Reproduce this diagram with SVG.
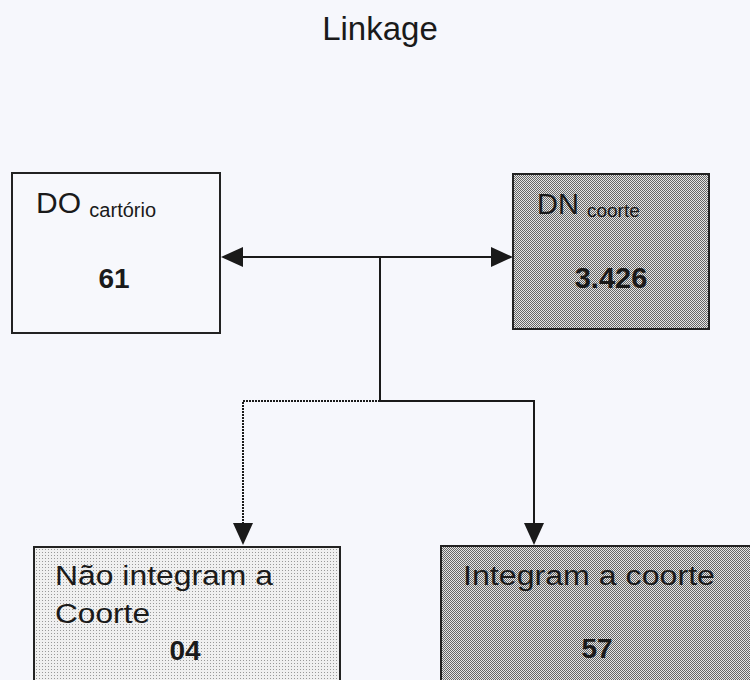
<svg xmlns="http://www.w3.org/2000/svg" width="750" height="680" viewBox="0 0 750 680">
<style>
text{font-family:"Liberation Sans",Arial,sans-serif;fill:#1a1a1a}
.b{font-weight:bold}
.box{stroke:#222;stroke-width:2}
.ln{fill:none;stroke:#1a1a1a;stroke-width:2}
.dot{stroke-dasharray:2 1}
</style>
<defs>
<pattern id="dense" patternUnits="userSpaceOnUse" width="2" height="2">
<rect width="2" height="2" fill="#e6e6e6"/>
<rect width="1" height="1" fill="#666"/>
<rect x="1" y="1" width="1" height="1" fill="#666"/>
</pattern>
<pattern id="light" patternUnits="userSpaceOnUse" width="3" height="3">
<rect width="3" height="3" fill="#f0f0f0"/>
<rect width="1" height="1" fill="#999"/>
</pattern>
<marker id="arr" markerUnits="userSpaceOnUse" markerWidth="22" markerHeight="20" refX="20" refY="10" orient="auto-start-reverse" viewBox="0 0 22 20">
<path d="M0,0 L22,10 L0,20 z" fill="#1a1a1a"/>
</marker>
</defs>
<rect width="750" height="680" fill="#f6f7fc"/>
<text x="380" y="40" font-size="33" text-anchor="middle">Linkage</text>
<g id="connectors">
<path class="ln" d="M223,257 H511" marker-start="url(#arr)" marker-end="url(#arr)"/>
<path class="ln" d="M380,257 V401"/>
<path class="ln dot" d="M380,401 H243 V543" marker-end="url(#arr)"/>
<path class="ln" d="M380,401 H534 V543" marker-end="url(#arr)"/>
</g>
<g id="do-cartorio">
<rect class="box" x="12" y="173" width="208" height="160" fill="#f7f8fc"/>
<text x="36" y="213" font-size="30">DO <tspan font-size="20" dy="4">cartório</tspan></text>
<text class="b" x="114" y="288" font-size="28" text-anchor="middle">61</text>
</g>
<g id="dn-coorte">
<rect class="box" x="513" y="174" width="196" height="155" fill="url(#dense)"/>
<text x="537" y="214" font-size="29">DN <tspan font-size="19" dy="3">coorte</tspan></text>
<text class="b" x="611" y="288" font-size="29" text-anchor="middle">3.426</text>
</g>
<g id="nao-integram">
<rect class="box" x="34" y="547" width="306" height="150" fill="url(#light)"/>
<text x="55" y="585" font-size="27" textLength="218" lengthAdjust="spacingAndGlyphs">Não integram a</text>
<text x="55" y="623" font-size="27" textLength="95" lengthAdjust="spacingAndGlyphs">Coorte</text>
<text class="b" x="185" y="660" font-size="28" text-anchor="middle">04</text>
</g>
<g id="integram">
<rect class="box" x="441" y="546" width="330" height="150" fill="url(#dense)"/>
<text x="463" y="585" font-size="27" textLength="252" lengthAdjust="spacingAndGlyphs">Integram a coorte</text>
<text class="b" x="597" y="658" font-size="28" text-anchor="middle">57</text>
</g>
</svg>
